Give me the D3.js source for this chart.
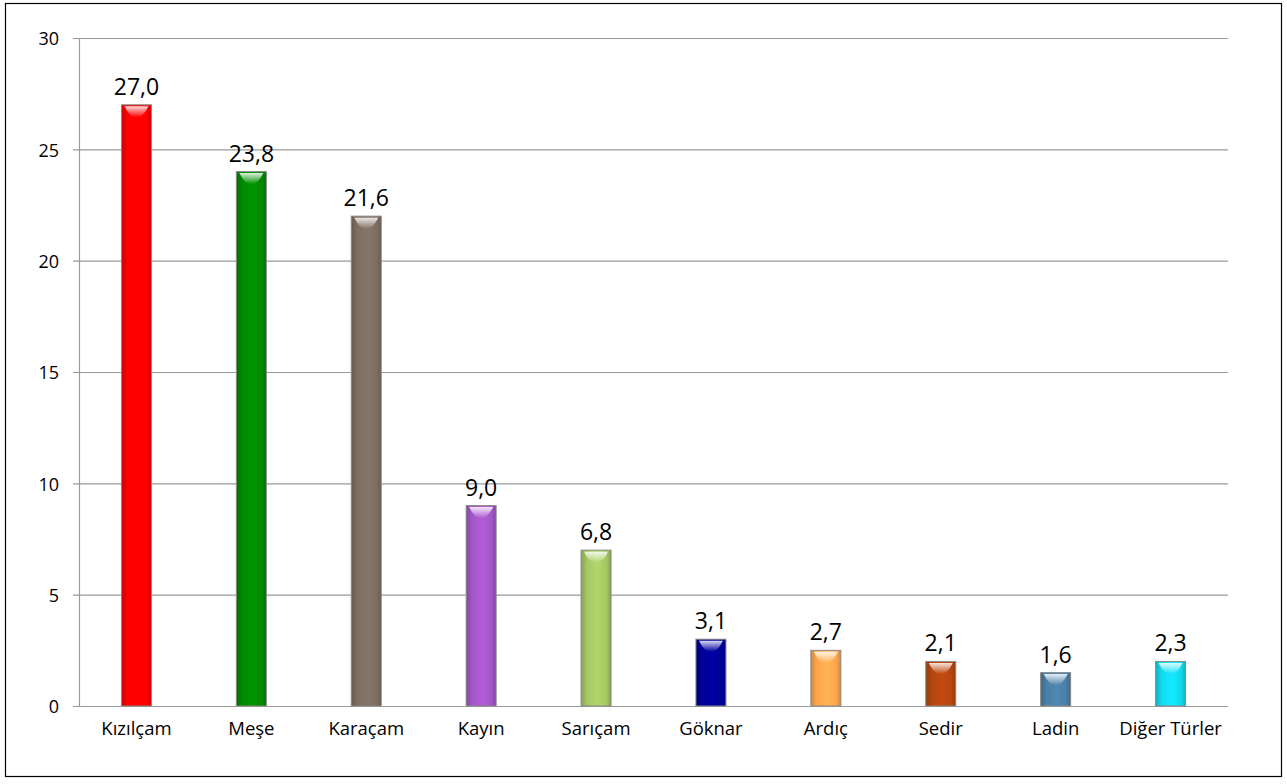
<!DOCTYPE html>
<html><head><meta charset="utf-8">
<script src="https://cdn.jsdelivr.net/npm/d3@7"></script>
<style>html,body{margin:0;padding:0;background:#fff}svg{display:block}</style>
</head><body>
<svg id="c" width="1287" height="784"></svg>
<script>
const categories = ["Kızılçam","Meşe","Karaçam","Kayın","Sarıçam","Göknar","Ardıç","Sedir","Ladin","Diğer Türler"];
const barValues = [27, 24, 22, 9, 7, 3, 2.5, 2, 1.5, 2];
const labelTexts = ["27,0","23,8","21,6","9,0","6,8","3,1","2,7","2,1","1,6","2,3"];
const colors = ["#ff0000","#008a00","#7f6d60","#a456c8","#a4c863","#000099","#ffa64d","#b5460f","#4a7fa6","#12d9ee"];
const yTicks = [0,5,10,15,20,25,30];

const svg = d3.select("#c");
const font = "'Open Sans', 'Noto Sans', sans-serif";
svg.append("rect").attr("x",5.5).attr("y",3.5).attr("width",1276).attr("height",773)
  .attr("fill","#fff").attr("stroke","#000").attr("stroke-width",1.2);

const L=79, R=1228, T=38, B=706;
const x = d3.scaleBand().domain(categories).range([L,R]);
const y = d3.scaleLinear().domain([0,30]).range([B,T]);

const defs = svg.append("defs");
colors.forEach((c,i)=>{
  const g = defs.append("linearGradient").attr("id","g"+i).attr("x1","0").attr("x2","1").attr("y1","0").attr("y2","0");
  const dk = d3.color(c).darker(0.6), lt = d3.color(c).brighter(0.2);
  g.append("stop").attr("offset","0%").attr("stop-color",dk);
  g.append("stop").attr("offset","20%").attr("stop-color",c);
  g.append("stop").attr("offset","55%").attr("stop-color",lt);
  g.append("stop").attr("offset","85%").attr("stop-color",c);
  g.append("stop").attr("offset","100%").attr("stop-color",dk);
  const h = defs.append("linearGradient").attr("id","h"+i).attr("x1","0").attr("x2","0").attr("y1","0").attr("y2","1");
  h.append("stop").attr("offset","0%").attr("stop-color","#fff").attr("stop-opacity",0.85);
  h.append("stop").attr("offset","100%").attr("stop-color","#fff").attr("stop-opacity",0);
});

// gridlines
svg.append("g").selectAll("line").data(yTicks).join("line")
  .attr("x1",L-6).attr("x2",R).attr("y1",d=>y(d)+0.5).attr("y2",d=>y(d)+0.5)
  .attr("stroke","#9a9a9a").attr("stroke-width",1.2);
svg.append("line").attr("x1",L+0.5).attr("x2",L+0.5).attr("y1",T).attr("y2",B)
  .attr("stroke","#9a9a9a").attr("stroke-width",1.2);

// y tick labels
const yAxis = d3.axisLeft(y).tickValues(yTicks).tickSize(0).tickPadding(20);
const ya = svg.append("g").attr("transform",`translate(${L},1)`).call(yAxis);
ya.select(".domain").remove();
ya.selectAll("text").attr("font-family",font).attr("font-size",18).attr("fill","#000");

// x labels
const xAxis = d3.axisBottom(x).tickSize(0).tickPadding(16);
const xa = svg.append("g").attr("transform",`translate(0,${B})`).call(xAxis);
xa.select(".domain").remove();
xa.selectAll("text").attr("font-family",font).attr("font-size",18.5).attr("fill","#000");

const bw = 30;
const bars = svg.append("g").selectAll("g").data(categories).join("g");
bars.append("rect")
  .attr("x",(d)=>x(d)+x.bandwidth()/2-bw/2).attr("width",bw)
  .attr("y",(d,i)=>y(barValues[i])).attr("height",(d,i)=>B-y(barValues[i]))
  .attr("fill",(d,i)=>`url(#g${i})`).attr("stroke","#8a8a8a").attr("stroke-width",1);
bars.append("path")
  .attr("d",(d,i)=>{
    const x0=x(d)+x.bandwidth()/2-bw/2+3, x1=x0+bw-6, t=y(barValues[i])+1.5;
    return `M${x0},${t} L${x1},${t} Q${(x0+x1)/2+6},${t+12} ${(x0+x1)/2},${t+11} Q${(x0+x1)/2-6},${t+12} ${x0},${t} Z`;
  })
  .attr("fill",(d,i)=>`url(#h${i})`);
bars.append("text")
  .attr("x",d=>x(d)+x.bandwidth()/2).attr("y",(d,i)=>y(barValues[i])-10)
  .attr("text-anchor","middle").attr("font-family",font).attr("font-size",23).attr("fill","#000")
  .text((d,i)=>labelTexts[i]);
</script>
</body></html>
